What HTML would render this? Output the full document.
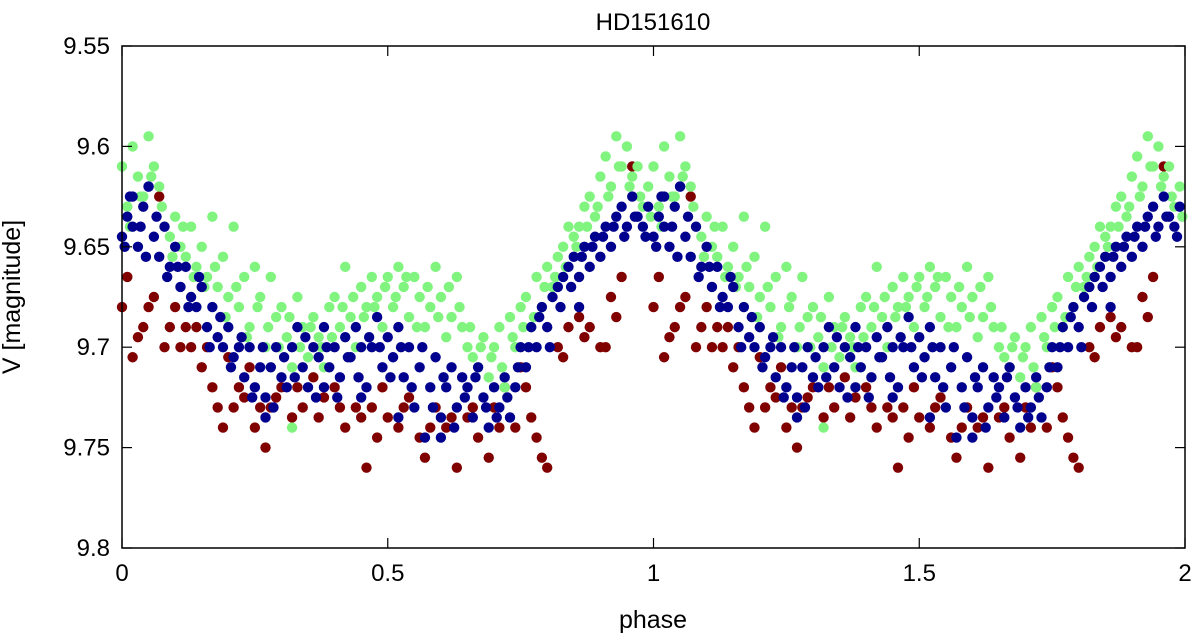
<!DOCTYPE html>
<html><head><meta charset="utf-8"><style>
html,body{margin:0;padding:0;background:#fff;}
svg{display:block;font-family:"Liberation Sans",sans-serif;}
</style></head><body>
<svg id="chart" width="1200" height="643"></svg>
<script>
const xTicks=[0,0.5,1,1.5,2];
const xTickLabels=["0","0.5","1","1.5","2"];
const yTicks=[9.55,9.6,9.65,9.7,9.75,9.8];
const yTickLabels=["9.55","9.6","9.65","9.7","9.75","9.8"];
const redPhase=[0.00,0.01,0.02,0.04,0.05,0.06,0.07,0.08,0.10,0.11,0.12,0.14,0.15,0.16,0.17,0.18,0.19,0.20,0.22,0.23,0.24,0.26,0.27,0.28,0.30,0.32,0.34,0.36,0.38,0.40,0.42,0.44,0.46,0.47,0.49,0.50,0.52,0.54,0.56,0.57,0.59,0.61,0.63,0.65,0.67,0.69,0.70,0.72,0.74,0.75,0.77,0.79,0.80,0.82,0.84,0.86,0.88,0.90,0.92,0.94,0.96,
0.03,0.09,0.13,0.21,0.25,0.29,0.33,0.37,0.41,0.45,0.48,0.53,0.58,0.62,0.66,0.71,0.76,0.78,0.83,0.87,0.91,0.93];
const redMag=[9.68,9.665,9.705,9.69,9.68,9.675,9.625,9.70,9.68,9.70,9.69,9.69,9.71,9.70,9.72,9.73,9.74,9.705,9.72,9.725,9.71,9.73,9.75,9.73,9.72,9.735,9.73,9.715,9.725,9.72,9.74,9.73,9.76,9.73,9.72,9.735,9.74,9.725,9.745,9.755,9.73,9.74,9.76,9.735,9.745,9.755,9.73,9.72,9.74,9.71,9.735,9.755,9.76,9.70,9.69,9.685,9.69,9.70,9.675,9.665,9.61,
9.695,9.69,9.70,9.73,9.74,9.725,9.72,9.735,9.73,9.735,9.745,9.73,9.74,9.735,9.73,9.74,9.72,9.745,9.705,9.695,9.70,9.685];
const greenPhase=[0.00,0.01,0.02,0.03,0.04,0.05,0.06,0.07,0.08,0.09,0.10,0.11,0.12,0.13,0.14,0.15,0.16,0.17,0.18,0.19,0.20,0.21,0.22,0.23,0.24,0.25,0.26,0.27,0.28,0.29,0.30,0.31,0.32,0.33,0.34,0.35,0.36,0.37,0.38,0.39,0.40,0.41,0.42,0.43,0.44,0.45,0.46,0.47,0.48,0.49,0.50,0.51,0.52,0.53,0.54,0.55,0.56,0.57,0.58,0.59,0.60,0.61,0.62,0.63,0.64,0.65,0.66,0.67,0.68,0.69,0.70,0.71,0.72,0.73,0.74,0.75,0.76,0.77,0.78,0.79,0.80,0.81,0.82,0.83,0.84,0.85,0.86,0.87,0.88,0.89,0.90,0.91,0.92,0.93,0.94,0.95,0.96,0.97,0.98,0.99,0.32,
0.015,0.035,0.055,0.075,0.095,0.115,0.135,0.155,0.175,0.195,0.215,0.235,0.255,0.275,0.295,0.315,0.335,0.355,0.375,0.395,0.415,0.435,0.455,0.475,0.495,0.515,0.535,0.555,0.575,0.595,0.615,0.635,0.655,0.675,0.695,0.715,0.735,0.755,0.775,0.795,0.815,0.835,0.855,0.875,0.895,0.915,0.935,0.955,0.975,0.995];
const greenMag=[9.61,9.63,9.60,9.615,9.625,9.595,9.61,9.62,9.64,9.645,9.635,9.65,9.655,9.64,9.66,9.65,9.665,9.635,9.67,9.655,9.675,9.64,9.68,9.665,9.69,9.66,9.675,9.70,9.665,9.685,9.68,9.695,9.71,9.675,9.69,9.705,9.685,9.695,9.71,9.68,9.675,9.69,9.66,9.685,9.70,9.67,9.68,9.665,9.675,9.69,9.665,9.68,9.66,9.67,9.685,9.665,9.675,9.69,9.68,9.66,9.675,9.695,9.685,9.665,9.69,9.70,9.705,9.71,9.695,9.715,9.70,9.69,9.72,9.685,9.70,9.68,9.675,9.69,9.665,9.68,9.66,9.67,9.655,9.65,9.64,9.645,9.64,9.63,9.625,9.635,9.615,9.605,9.62,9.595,9.61,9.60,9.615,9.61,9.63,9.62,9.74,
9.64,9.625,9.615,9.63,9.655,9.64,9.665,9.67,9.66,9.685,9.67,9.695,9.68,9.69,9.70,9.685,9.70,9.69,9.70,9.695,9.68,9.675,9.685,9.68,9.67,9.675,9.665,9.69,9.67,9.685,9.67,9.68,9.69,9.70,9.705,9.71,9.695,9.69,9.685,9.67,9.665,9.66,9.65,9.64,9.63,9.625,9.61,9.62,9.625,9.635];
const bluePhase=[0.00,0.01,0.02,0.03,0.04,0.05,0.06,0.07,0.08,0.09,0.10,0.11,0.12,0.13,0.14,0.15,0.16,0.17,0.18,0.19,0.20,0.21,0.22,0.23,0.24,0.25,0.26,0.27,0.28,0.29,0.30,0.31,0.32,0.33,0.34,0.35,0.36,0.37,0.38,0.39,0.40,0.41,0.42,0.43,0.44,0.45,0.46,0.47,0.48,0.49,0.50,0.51,0.52,0.53,0.54,0.55,0.56,0.57,0.58,0.59,0.60,0.61,0.62,0.63,0.64,0.65,0.66,0.67,0.68,0.69,0.70,0.71,0.72,0.73,0.74,0.75,0.76,0.77,0.78,0.79,0.80,0.81,0.82,0.83,0.84,0.85,0.86,0.87,0.88,0.89,0.90,0.91,0.92,0.93,0.94,0.95,0.96,0.97,0.98,0.99,0.27,0.45,0.52,0.60,0.38,0.86,0.02,0.05,
0.005,0.015,0.035,0.045,0.065,0.085,0.105,0.125,0.145,0.165,0.185,0.205,0.225,0.245,0.265,0.285,0.305,0.325,0.345,0.365,0.385,0.405,0.425,0.445,0.465,0.485,0.505,0.525,0.545,0.565,0.585,0.605,0.625,0.645,0.665,0.685,0.705,0.725,0.745,0.765,0.785,0.805,0.825,0.845,0.865,0.885,0.905,0.925,0.945,0.965,0.985];
const blueMag=[9.645,9.635,9.64,9.65,9.63,9.62,9.645,9.655,9.64,9.66,9.65,9.67,9.66,9.675,9.68,9.67,9.69,9.68,9.695,9.70,9.69,9.705,9.70,9.715,9.70,9.72,9.71,9.725,9.71,9.70,9.715,9.72,9.70,9.69,9.71,9.72,9.70,9.705,9.69,9.71,9.70,9.715,9.695,9.705,9.69,9.70,9.72,9.70,9.685,9.71,9.695,9.705,9.69,9.715,9.70,9.73,9.71,9.745,9.72,9.705,9.735,9.72,9.71,9.73,9.715,9.72,9.735,9.71,9.725,9.74,9.72,9.73,9.715,9.735,9.72,9.70,9.71,9.69,9.70,9.68,9.69,9.675,9.67,9.665,9.66,9.655,9.665,9.65,9.66,9.645,9.655,9.64,9.65,9.635,9.63,9.64,9.625,9.635,9.64,9.63,9.735,9.725,9.735,9.745,9.72,9.68,9.625,9.62,
9.65,9.625,9.64,9.655,9.635,9.665,9.66,9.68,9.665,9.70,9.685,9.71,9.695,9.725,9.70,9.73,9.705,9.715,9.695,9.725,9.70,9.725,9.705,9.715,9.695,9.70,9.715,9.70,9.72,9.70,9.73,9.715,9.74,9.725,9.715,9.73,9.735,9.725,9.71,9.70,9.685,9.70,9.68,9.67,9.655,9.65,9.645,9.64,9.645,9.635,9.645];

const NS="http://www.w3.org/2000/svg";
const svg=document.getElementById('chart');
const L=122,R=1185,T=46,B=548;
const xs=p=>L+(p/2)*(R-L);
const ys=m=>T+(m-9.55)/0.25*(B-T);
function mk(tag,attrs){const e=document.createElementNS(NS,tag);for(const k in attrs)e.setAttribute(k,attrs[k]);svg.appendChild(e);return e;}

function drawSeries(ph,mg,color,name){
  for(let rep=0;rep<2;rep++){
    for(let i=0;i<ph.length;i++){
      const p=ph[i]+rep;
      if(p>2)continue;
      const c=mk('circle',{cx:xs(p),cy:ys(mg[i]),r:5.2,fill:color});
      
      
    }
  }
}
drawSeries(redPhase,redMag,'#800000','red-series');
drawSeries(greenPhase,greenMag,'#80f47e','green-series');
drawSeries(bluePhase,blueMag,'#00008f','blue-series');

const frame=mk('rect',{x:L,y:T,width:R-L,height:B-T,fill:'none',stroke:'#000','stroke-width':1.5});



xTicks.forEach((v,i)=>{
  const x=xs(v);
  mk('line',{x1:x,y1:B,x2:x,y2:B-10,stroke:'#000','stroke-width':1.2});
  mk('line',{x1:x,y1:T,x2:x,y2:T+10,stroke:'#000','stroke-width':1.2});
  const t=mk('text',{x:x,y:B+33,'text-anchor':'middle','font-size':24,fill:'#000'});
  t.textContent=xTickLabels[i];
  
  
});
yTicks.forEach((v,i)=>{
  const y=ys(v);
  mk('line',{x1:L,y1:y,x2:L+10,y2:y,stroke:'#000','stroke-width':1.2});
  mk('line',{x1:R,y1:y,x2:R-10,y2:y,stroke:'#000','stroke-width':1.2});
  const t=mk('text',{x:L-12,y:y+8,'text-anchor':'end','font-size':24,fill:'#000'});
  t.textContent=yTickLabels[i];
  
  
});
const title=mk('text',{x:653,y:30,'text-anchor':'middle','font-size':24,fill:'#000'});
title.textContent='HD151610';


const xl=mk('text',{x:653,y:628,'text-anchor':'middle','font-size':25,fill:'#000'});
xl.textContent='phase';


const yl=mk('text',{x:0,y:0,'text-anchor':'middle','font-size':25,fill:'#000',transform:'translate(20,297) rotate(-90)'});
yl.textContent='V [magnitude]';


</script>
</body></html>
